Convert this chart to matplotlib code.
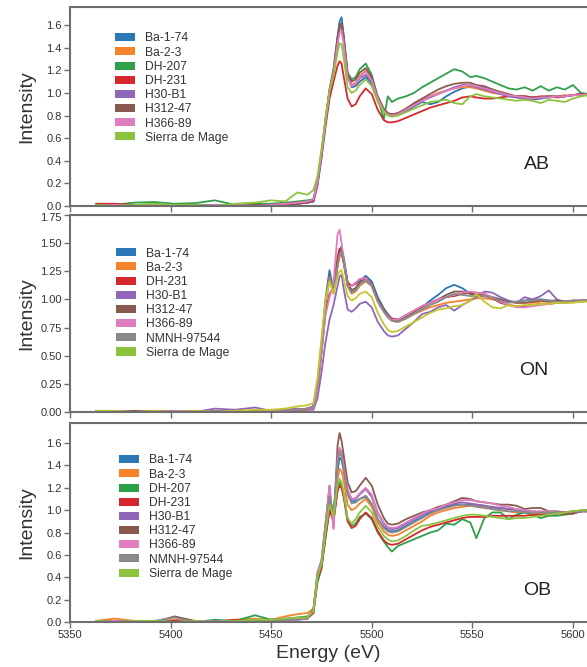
import matplotlib
matplotlib.use("Agg")
import matplotlib.pyplot as plt
from matplotlib.patches import Patch
from matplotlib.transforms import ScaledTranslation

plt.rcParams['font.family'] = ['Liberation Sans', 'DejaVu Sans']

ENERGY = [5363, 5372, 5382, 5392, 5402, 5412, 5422, 5432, 5442, 5450, 5457, 5463, 5468,
          5471, 5473, 5475, 5477, 5479, 5481, 5483, 5484, 5485, 5486,
          5488, 5490, 5492, 5494, 5497, 5500, 5503, 5506, 5508, 5510,
          5513, 5517, 5521, 5525, 5529, 5533, 5537, 5541, 5545, 5549,
          5552, 5556, 5560, 5564, 5568, 5572, 5576, 5580, 5584, 5588,
          5592, 5596, 5600, 5604, 5608]

# ---------------- AB panel ----------------
ab_ba174 = [0.00, 0.01, 0.01, 0.00, 0.01, 0.00, 0.01, 0.00, 0.01, 0.01, 0.02, 0.02, 0.03,
            0.04, 0.20, 0.45, 0.75, 1.02, 1.20, 1.50, 1.63, 1.67, 1.52,
            1.16, 1.05, 1.06, 1.10, 1.14, 1.08, 0.93, 0.84, 0.81, 0.80,
            0.81, 0.84, 0.88, 0.92, 0.90, 0.92, 0.97, 1.01, 1.04, 1.06,
            1.06, 1.05, 1.03, 1.00, 0.98, 0.96, 0.95, 0.94, 0.95, 0.96,
            0.97, 0.97, 0.98, 0.99, 0.99]
ab_ba23 = [0.00, 0.00, 0.01, 0.01, 0.00, 0.01, 0.00, 0.01, 0.01, 0.00, 0.01, 0.02, 0.03,
           0.05, 0.22, 0.47, 0.76, 1.02, 1.19, 1.46, 1.58, 1.60, 1.48,
           1.15, 1.07, 1.09, 1.15, 1.20, 1.12, 0.96, 0.85, 0.82, 0.81,
           0.82, 0.86, 0.90, 0.94, 0.97, 1.00, 1.02, 1.04, 1.05, 1.05,
           1.04, 1.02, 1.00, 0.99, 0.98, 0.97, 0.97, 0.96, 0.96, 0.97,
           0.97, 0.98, 0.98, 0.99, 0.99]
ab_dh207 = [0.00, 0.01, 0.03, 0.035, 0.02, 0.025, 0.05, 0.01, 0.02, 0.02, 0.03, 0.04, 0.05,
            0.06, 0.21, 0.45, 0.74, 1.00, 1.18, 1.47, 1.59, 1.60, 1.50,
            1.18, 1.12, 1.14, 1.21, 1.26, 1.16, 0.95, 0.77, 0.97, 0.92,
            0.95, 0.97, 1.00, 1.05, 1.09, 1.13, 1.17, 1.21, 1.19, 1.14,
            1.15, 1.13, 1.10, 1.07, 1.04, 1.03, 1.05, 1.02, 1.06, 1.02,
            1.05, 1.03, 1.07, 1.00, 0.99]
ab_dh231 = [0.02, 0.02, 0.01, 0.00, 0.01, 0.00, 0.01, 0.00, 0.00, 0.01, 0.02, 0.03, 0.03,
            0.04, 0.18, 0.42, 0.70, 0.95, 1.10, 1.24, 1.28, 1.26, 1.15,
            0.95, 0.88, 0.90, 0.97, 1.04, 0.99, 0.85, 0.76, 0.74, 0.74,
            0.75, 0.78, 0.81, 0.84, 0.87, 0.89, 0.91, 0.93, 0.96, 0.97,
            0.96, 0.95, 0.95, 0.96, 0.97, 0.97, 0.97, 0.96, 0.97, 0.97,
            0.96, 0.97, 0.98, 0.99, 0.99]
ab_h30b1 = [0.00, 0.00, 0.01, 0.00, 0.00, 0.01, 0.00, 0.01, 0.00, 0.01, 0.01, 0.02, 0.03,
            0.04, 0.19, 0.44, 0.74, 1.01, 1.19, 1.46, 1.57, 1.58, 1.47,
            1.14, 1.06, 1.08, 1.13, 1.16, 1.10, 0.95, 0.85, 0.82, 0.81,
            0.82, 0.85, 0.89, 0.93, 0.96, 0.99, 1.02, 1.05, 1.07, 1.07,
            1.05, 1.03, 1.01, 0.99, 0.97, 0.96, 0.95, 0.95, 0.96, 0.96,
            0.97, 0.97, 0.98, 0.99, 0.99]
ab_h31247 = [0.01, 0.00, 0.01, 0.01, 0.00, 0.01, 0.01, 0.00, 0.01, 0.01, 0.01, 0.02, 0.03,
             0.05, 0.21, 0.46, 0.76, 1.03, 1.21, 1.49, 1.60, 1.62, 1.50,
             1.17, 1.10, 1.12, 1.18, 1.22, 1.14, 0.97, 0.86, 0.82, 0.81,
             0.82, 0.86, 0.91, 0.95, 0.99, 1.03, 1.06, 1.08, 1.09, 1.09,
             1.07, 1.06, 1.03, 1.01, 0.99, 0.97, 0.97, 0.96, 0.96, 0.97,
             0.97, 0.97, 0.98, 0.99, 0.99]
ab_h36689 = [0.00, 0.01, 0.00, 0.01, 0.01, 0.00, 0.01, 0.01, 0.00, 0.01, 0.02, 0.03, 0.04,
             0.06, 0.22, 0.46, 0.75, 1.01, 1.18, 1.43, 1.53, 1.55, 1.44,
             1.13, 1.06, 1.08, 1.14, 1.19, 1.11, 0.95, 0.84, 0.81, 0.80,
             0.81, 0.85, 0.89, 0.93, 0.97, 0.99, 1.02, 1.04, 1.06, 1.07,
             1.06, 1.04, 1.02, 1.00, 0.98, 0.97, 0.96, 0.95, 0.96, 0.96,
             0.97, 0.97, 0.98, 0.98, 0.99]
ab_sierra = [0.01, 0.00, 0.01, 0.02, 0.01, 0.01, 0.00, 0.02, 0.03, 0.05, 0.04, 0.12, 0.10,
             0.14, 0.26, 0.50, 0.78, 1.02, 1.15, 1.36, 1.44, 1.43, 1.32,
             1.05, 1.00, 1.02, 1.07, 1.12, 1.06, 0.92, 0.83, 0.80, 0.79,
             0.80, 0.83, 0.86, 0.89, 0.92, 0.93, 0.94, 0.91, 0.90, 0.97,
             0.99, 0.97, 0.96, 0.95, 0.94, 0.93, 0.94, 0.93, 0.91, 0.94,
             0.93, 0.92, 0.95, 0.97, 0.98]

# ---------------- ON panel ----------------
on_ba174 = [0.01, 0.01, 0.00, 0.01, 0.00, 0.01, 0.00, 0.01, 0.00, 0.01, 0.01, 0.02, 0.03,
            0.05, 0.25, 0.60, 1.00, 1.26, 1.08, 1.33, 1.44, 1.47, 1.38,
            1.15, 1.08, 1.10, 1.16, 1.21, 1.16, 1.02, 0.92, 0.87, 0.83,
            0.82, 0.85, 0.89, 0.93, 0.99, 1.04, 1.10, 1.13, 1.10, 1.05,
            1.04, 1.03, 1.02, 1.00, 0.98, 0.98, 0.99, 1.00, 1.00, 0.99,
            0.99, 0.98, 0.98, 0.99, 0.99]
on_ba23 = [0.01, 0.00, 0.01, 0.00, 0.01, 0.00, 0.01, 0.00, 0.01, 0.01, 0.01, 0.02, 0.03,
           0.04, 0.22, 0.56, 0.95, 1.18, 1.05, 1.28, 1.38, 1.40, 1.32,
           1.12, 1.05, 1.07, 1.12, 1.16, 1.12, 0.99, 0.90, 0.85, 0.81,
           0.80, 0.83, 0.87, 0.90, 0.93, 0.95, 0.97, 0.98, 0.99, 1.00,
           1.01, 1.01, 1.00, 0.99, 0.98, 0.97, 0.97, 0.97, 0.98, 0.98,
           0.98, 0.98, 0.99, 0.99, 0.99]
on_dh231 = [0.00, 0.01, 0.00, 0.01, 0.01, 0.00, 0.01, 0.00, 0.01, 0.00, 0.01, 0.02, 0.02,
            0.04, 0.20, 0.52, 0.88, 1.05, 1.10, 1.38, 1.45, 1.43, 1.33,
            1.15, 1.12, 1.14, 1.18, 1.19, 1.13, 0.99, 0.90, 0.86, 0.83,
            0.82, 0.86, 0.90, 0.94, 0.97, 1.00, 1.02, 1.03, 1.05, 1.06,
            1.06, 1.05, 1.01, 0.97, 0.95, 0.94, 0.94, 0.95, 0.96, 0.96,
            0.97, 0.97, 0.98, 0.98, 0.99]
on_h30b1 = [0.00, 0.00, 0.01, 0.00, 0.01, 0.00, 0.03, 0.02, 0.04, 0.01, 0.02, 0.03, 0.02,
            0.02, 0.12, 0.35, 0.62, 0.82, 0.95, 1.12, 1.20, 1.22, 1.10,
            0.91, 0.89, 0.92, 0.96, 0.98, 0.93, 0.80, 0.72, 0.68, 0.67,
            0.68, 0.74, 0.80, 0.87, 0.89, 0.93, 0.95, 0.90, 0.95, 0.99,
            1.02, 1.07, 1.06, 1.02, 0.99, 0.97, 1.02, 1.00, 1.03, 1.08,
            1.00, 0.98, 0.99, 0.99, 0.99]
on_h31247 = [0.01, 0.00, 0.01, 0.00, 0.00, 0.01, 0.00, 0.01, 0.00, 0.01, 0.01, 0.02, 0.03,
             0.05, 0.24, 0.58, 0.98, 1.22, 1.07, 1.32, 1.42, 1.44, 1.36,
             1.14, 1.08, 1.10, 1.15, 1.19, 1.14, 1.00, 0.90, 0.85, 0.82,
             0.81, 0.85, 0.89, 0.93, 0.97, 1.00, 1.04, 1.07, 1.07, 1.05,
             1.04, 1.04, 1.02, 1.00, 0.98, 0.97, 0.97, 0.98, 0.99, 0.98,
             0.99, 0.98, 0.98, 0.99, 0.99]
on_h36689 = [0.00, 0.01, 0.00, 0.00, 0.01, 0.00, 0.01, 0.01, 0.00, 0.01, 0.01, 0.02, 0.03,
             0.04, 0.20, 0.52, 0.86, 1.02, 1.15, 1.58, 1.62, 1.50, 1.35,
             1.12, 1.12, 1.15, 1.18, 1.19, 1.12, 0.98, 0.89, 0.85, 0.82,
             0.82, 0.86, 0.90, 0.94, 0.97, 1.00, 1.02, 1.04, 1.06, 1.07,
             1.06, 1.05, 1.02, 0.98, 0.95, 0.93, 0.93, 0.94, 0.95, 0.96,
             0.97, 0.97, 0.98, 0.98, 0.99]
on_nmnh = [0.01, 0.00, 0.00, 0.01, 0.00, 0.00, 0.01, 0.00, 0.01, 0.00, 0.01, 0.02, 0.03,
           0.05, 0.24, 0.58, 0.97, 1.20, 1.06, 1.30, 1.40, 1.42, 1.34,
           1.12, 1.06, 1.08, 1.13, 1.17, 1.12, 0.98, 0.89, 0.84, 0.81,
           0.80, 0.83, 0.87, 0.91, 0.95, 0.98, 1.02, 1.05, 1.04, 1.03,
           1.03, 1.03, 1.01, 0.99, 0.97, 0.98, 0.99, 0.99, 1.00, 0.99,
           0.98, 0.98, 0.99, 0.99, 0.99]
on_sierra = [0.01, 0.01, 0.00, 0.01, 0.00, 0.01, 0.00, 0.01, 0.02, 0.02, 0.03, 0.05, 0.06,
             0.08, 0.30, 0.65, 1.00, 1.16, 1.05, 1.20, 1.25, 1.26, 1.18,
             1.03, 0.99, 1.01, 1.05, 1.07, 1.02, 0.88, 0.78, 0.73, 0.71,
             0.72, 0.76, 0.80, 0.84, 0.88, 0.91, 0.92, 0.94, 0.95, 0.99,
             1.05, 0.98, 0.93, 0.92, 0.95, 0.94, 0.95, 0.95, 0.96, 0.96,
             0.97, 0.97, 0.97, 0.98, 0.98]

# ---------------- OB panel ----------------
ob_ba174 = [0.00, 0.01, 0.00, 0.01, 0.01, 0.00, 0.01, 0.00, 0.01, 0.01, 0.02, 0.03, 0.04,
            0.10, 0.40, 0.50, 0.82, 1.08, 0.98, 1.35, 1.47, 1.45, 1.36,
            1.15, 1.08, 1.08, 1.10, 1.12, 1.05, 0.92, 0.85, 0.82, 0.81,
            0.82, 0.86, 0.90, 0.94, 0.98, 1.00, 1.03, 1.05, 1.05, 1.05,
            1.05, 1.04, 1.02, 1.02, 1.01, 1.01, 0.99, 0.98, 0.98, 0.98,
            0.98, 0.98, 0.98, 0.99, 0.99]
ob_ba23 = [0.01, 0.03, 0.01, 0.00, 0.02, 0.01, 0.00, 0.02, 0.03, 0.02, 0.05, 0.07, 0.08,
           0.12, 0.40, 0.52, 0.80, 1.04, 0.91, 1.28, 1.37, 1.35, 1.27,
           1.05, 1.00, 1.02, 1.06, 1.10, 1.03, 0.89, 0.81, 0.78, 0.77,
           0.78, 0.82, 0.86, 0.90, 0.95, 0.98, 1.00, 1.02, 1.03, 1.04,
           1.04, 1.03, 1.01, 1.00, 0.99, 0.98, 0.98, 0.98, 0.97, 0.98,
           0.98, 0.98, 0.99, 0.99, 0.99]
ob_dh207 = [0.00, 0.01, 0.00, 0.01, 0.01, 0.00, 0.02, 0.01, 0.06, 0.02, 0.03, 0.04, 0.05,
            0.08, 0.35, 0.48, 0.75, 1.00, 0.92, 1.18, 1.25, 1.22, 1.14,
            0.92, 0.86, 0.88, 0.94, 0.97, 0.92, 0.80, 0.72, 0.67, 0.63,
            0.68, 0.71, 0.74, 0.77, 0.80, 0.82, 0.88, 0.87, 0.92, 0.89,
            0.75, 0.93, 0.98, 0.98, 0.92, 0.96, 0.98, 0.96, 0.93, 0.95,
            0.95, 0.96, 0.97, 0.99, 1.00]
ob_dh231 = [0.00, 0.00, 0.01, 0.00, 0.01, 0.01, 0.00, 0.02, 0.01, 0.02, 0.02, 0.03, 0.03,
            0.08, 0.38, 0.48, 0.76, 1.00, 0.90, 1.17, 1.22, 1.20, 1.12,
            0.90, 0.84, 0.86, 0.92, 0.98, 0.93, 0.81, 0.73, 0.70, 0.69,
            0.70, 0.74, 0.78, 0.82, 0.85, 0.87, 0.89, 0.91, 0.93, 0.94,
            0.94, 0.94, 0.95, 0.95, 0.95, 0.95, 0.95, 0.96, 0.96, 0.96,
            0.97, 0.97, 0.97, 0.99, 1.00]
ob_h30b1 = [0.00, 0.00, 0.01, 0.00, 0.00, 0.01, 0.00, 0.01, 0.01, 0.01, 0.02, 0.02, 0.03,
            0.10, 0.42, 0.53, 0.85, 1.15, 0.92, 1.45, 1.55, 1.52, 1.42,
            1.18, 1.10, 1.10, 1.14, 1.19, 1.12, 0.97, 0.88, 0.84, 0.83,
            0.84, 0.88, 0.92, 0.96, 0.99, 1.01, 1.04, 1.06, 1.07, 1.06,
            1.05, 1.04, 1.03, 1.02, 1.01, 1.00, 0.99, 0.99, 0.98, 0.98,
            0.98, 0.98, 0.99, 0.99, 0.99]
ob_h31247 = [0.01, 0.00, 0.01, 0.00, 0.05, 0.01, 0.00, 0.01, 0.00, 0.01, 0.02, 0.03, 0.04,
             0.11, 0.44, 0.55, 0.88, 1.22, 0.84, 1.58, 1.69, 1.62, 1.50,
             1.25, 1.16, 1.17, 1.22, 1.29, 1.22, 1.05, 0.93, 0.88, 0.87,
             0.88, 0.92, 0.95, 0.98, 1.00, 1.03, 1.05, 1.08, 1.11, 1.10,
             1.08, 1.07, 1.06, 1.05, 1.05, 1.04, 1.01, 1.02, 1.02, 0.99,
             0.99, 0.98, 0.97, 1.00, 1.00]
ob_h36689 = [0.00, 0.01, 0.00, 0.01, 0.00, 0.01, 0.01, 0.00, 0.01, 0.01, 0.02, 0.03, 0.03,
             0.10, 0.43, 0.54, 0.87, 1.22, 0.83, 1.46, 1.56, 1.50, 1.40,
             1.18, 1.10, 1.11, 1.15, 1.20, 1.14, 0.98, 0.89, 0.85, 0.84,
             0.85, 0.89, 0.93, 0.97, 1.00, 1.02, 1.05, 1.07, 1.09, 1.09,
             1.08, 1.07, 1.06, 1.04, 1.03, 1.01, 1.00, 0.99, 0.99, 0.99,
             0.98, 0.98, 0.99, 0.99, 0.99]
ob_nmnh = [0.01, 0.00, 0.00, 0.01, 0.04, 0.00, 0.01, 0.00, 0.01, 0.01, 0.02, 0.02, 0.03,
           0.10, 0.41, 0.52, 0.84, 1.12, 0.96, 1.42, 1.52, 1.48, 1.38,
           1.14, 1.06, 1.07, 1.10, 1.13, 1.06, 0.92, 0.84, 0.81, 0.80,
           0.81, 0.85, 0.89, 0.93, 0.97, 1.00, 1.02, 1.04, 1.05, 1.04,
           1.03, 1.02, 1.01, 1.00, 0.99, 0.99, 0.98, 0.98, 0.98, 0.98,
           0.98, 0.98, 0.99, 0.99, 0.99]
ob_sierra = [0.01, 0.00, 0.01, 0.01, 0.00, 0.01, 0.00, 0.01, 0.02, 0.02, 0.03, 0.04, 0.04,
             0.10, 0.40, 0.52, 0.80, 1.05, 0.95, 1.22, 1.28, 1.25, 1.16,
             0.93, 0.88, 0.92, 0.98, 1.04, 0.98, 0.85, 0.77, 0.74, 0.72,
             0.73, 0.77, 0.82, 0.86, 0.87, 0.89, 0.91, 0.93, 0.95, 0.96,
             0.96, 0.95, 0.94, 0.93, 0.92, 0.93, 0.93, 0.94, 0.95, 0.96,
             0.97, 0.98, 0.99, 1.00, 1.00]

COLORS = {
    'Ba-1-74': '#2a78b6',
    'Ba-2-3': '#f6822b',
    'DH-207': '#2ea04a',
    'DH-231': '#d5272c',
    'H30-B1': '#9066b8',
    'H312-47': '#8b5a4e',
    'H366-89': '#e07cc0',
    'NMNH-97544': '#8a8a8a',
    'Sierra de Mage': '#8cc43e',
}
SIERRA_ON_LINE = '#c3c62c'

panels = [
    ('AB', [('Ba-1-74', ab_ba174), ('Ba-2-3', ab_ba23), ('DH-207', ab_dh207),
            ('DH-231', ab_dh231), ('H30-B1', ab_h30b1), ('H312-47', ab_h31247),
            ('H366-89', ab_h36689), ('Sierra de Mage', ab_sierra)]),
    ('ON', [('Ba-1-74', on_ba174), ('Ba-2-3', on_ba23), ('DH-231', on_dh231),
            ('H30-B1', on_h30b1), ('H312-47', on_h31247), ('H366-89', on_h36689),
            ('NMNH-97544', on_nmnh), ('Sierra de Mage', on_sierra)]),
    ('OB', [('Ba-1-74', ob_ba174), ('Ba-2-3', ob_ba23), ('DH-207', ob_dh207),
            ('DH-231', ob_dh231), ('H30-B1', ob_h30b1), ('H312-47', ob_h31247),
            ('H366-89', ob_h36689), ('NMNH-97544', ob_nmnh), ('Sierra de Mage', ob_sierra)]),
]

W, H = 587, 667
fig = plt.figure(figsize=(W / 100, H / 100), dpi=100)
fig.patch.set_facecolor('white')

def frac_rect(top_px, bottom_px, left_px=70, right_px=587):
    return [left_px / W, 1 - bottom_px / H, (right_px - left_px) / W, (bottom_px - top_px) / H]

rects = [frac_rect(7, 206), frac_rect(215, 412), frac_rect(423, 622)]
ylims = [(0, 1.76), (0, 1.75), (0, 1.78)]
yticks = [[0, 0.2, 0.4, 0.6, 0.8, 1.0, 1.2, 1.4, 1.6],
          [0, 0.25, 0.5, 0.75, 1.0, 1.25, 1.5, 1.75],
          [0, 0.2, 0.4, 0.6, 0.8, 1.0, 1.2, 1.4, 1.6]]
yfmt = ['{:.1f}', '{:.2f}', '{:.1f}']
label_pos = [(0.903, 0.21), (0.897, 0.213), (0.903, 0.16)]
legend_anchor = [(0.087, 0.872), (0.089, 0.835), (0.095, 0.842)]
xticks = [5350, 5400, 5450, 5500, 5550, 5600]
spine_col = '#6e6e6e'
text_col = '#333333'

for i, (name, series) in enumerate(panels):
    ax = fig.add_axes(rects[i])
    for lab, vals in series:
        col = COLORS[lab]
        if name == 'ON' and lab == 'Sierra de Mage':
            col = SIERRA_ON_LINE
        ax.plot(ENERGY, vals, color=col, lw=1.3, solid_joinstyle='round')
    ax.set_xlim(5350, 5607)
    ax.set_ylim(*ylims[i])
    ax.set_yticks(yticks[i])
    ax.set_yticklabels([yfmt[i].format(v) for v in yticks[i]])
    ax.set_xticks(xticks)
    if i < 2:
        ax.set_xticklabels([])
    else:
        ax.set_xticklabels([str(v) for v in xticks])
        ax.set_xlabel('Energy (eV)', fontsize=14, color=text_col, labelpad=3)
    ax.set_ylabel('Intensity', fontsize=14, color=text_col)
    ax.yaxis.set_label_coords(-0.068, 0.5)
    for s in ['left', 'bottom', 'top']:
        ax.spines[s].set_color(spine_col)
        ax.spines[s].set_linewidth(1.5)
    ax.spines['right'].set_visible(False)
    ax.tick_params(axis='both', direction='out', length=4, width=1.0,
                   color=spine_col, labelcolor=text_col, labelsize=8, pad=2)
    if i == 1:
        # nudge the topmost tick label of the middle panel slightly down
        top_lab = ax.get_yticklabels()[-1]
        top_lab.set_transform(top_lab.get_transform() +
                              ScaledTranslation(0, -2 / 100, fig.dpi_scale_trans))
    ax.text(label_pos[i][0], label_pos[i][1], name, transform=ax.transAxes,
            ha='center', va='center', fontsize=14, color='#222222')
    handles = [Patch(facecolor=COLORS[lab], edgecolor='none') for lab, _ in series]
    ax.legend(handles, [lab for lab, _ in series], loc='upper left',
              bbox_to_anchor=legend_anchor[i], bbox_transform=ax.transAxes,
              frameon=False, fontsize=8.7, handlelength=1.65, handleheight=0.65,
              handletextpad=0.8, labelspacing=0.18, borderpad=0, borderaxespad=0,
              labelcolor=text_col)

fig.savefig('out.png', dpi=100, facecolor='white')
